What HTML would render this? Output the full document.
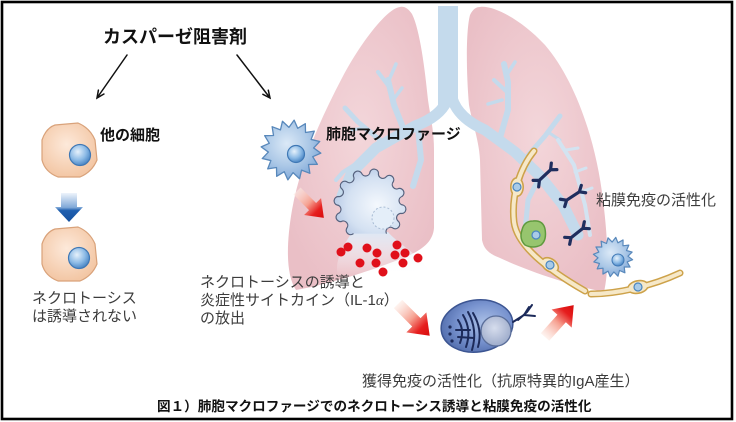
<!DOCTYPE html>
<html><head><meta charset="utf-8"><style>
html,body{margin:0;padding:0;background:#fff;}
svg{display:block;}
text{font-family:"Liberation Sans","Noto Sans CJK JP",sans-serif;}
.b{font-weight:bold;fill:#111;}
.g{fill:#3c3c3c;}
</style></head><body>
<svg width="736" height="422" viewBox="0 0 736 422" xmlns="http://www.w3.org/2000/svg">
<defs>
<radialGradient id="lung" cx="0.5" cy="0.45" r="0.6">
<stop offset="0" stop-color="#f3d6da"/><stop offset="1" stop-color="#eabfc6"/></radialGradient>
<radialGradient id="mac" cx="0.42" cy="0.4" r="0.6">
<stop offset="0" stop-color="#dbe9f7"/><stop offset="0.6" stop-color="#adc9e7"/><stop offset="1" stop-color="#86addb"/></radialGradient>
<radialGradient id="nuc" cx="0.4" cy="0.35" r="0.65">
<stop offset="0" stop-color="#e6f1fb"/><stop offset="0.6" stop-color="#8dbbe6"/><stop offset="1" stop-color="#4d88c6"/></radialGradient>
<radialGradient id="peach" cx="0.45" cy="0.4" r="0.6">
<stop offset="0" stop-color="#fde9da"/><stop offset="1" stop-color="#f3c7a5"/></radialGradient>
<radialGradient id="necro" cx="0.6" cy="0.55" r="0.6">
<stop offset="0" stop-color="#f4f8fd"/><stop offset="0.7" stop-color="#d4e1f2"/><stop offset="1" stop-color="#b9cbe6"/></radialGradient>
<linearGradient id="spill" x1="0" y1="0" x2="0" y2="1">
<stop offset="0" stop-color="#dde8f5"/><stop offset="1" stop-color="#ffffff" stop-opacity="0"/></linearGradient>
<radialGradient id="plasma" cx="0.6" cy="0.45" r="0.6">
<stop offset="0" stop-color="#aabfe6"/><stop offset="0.6" stop-color="#7893cf"/><stop offset="1" stop-color="#5671b0"/></radialGradient>
<radialGradient id="pnuc" cx="0.45" cy="0.4" r="0.6">
<stop offset="0" stop-color="#d6dded"/><stop offset="1" stop-color="#9eaccb"/></radialGradient>
<linearGradient id="red" x1="0" y1="0" x2="1" y2="0">
<stop offset="0" stop-color="#fdebe4" stop-opacity="0.6"/><stop offset="0.45" stop-color="#f6a090"/><stop offset="0.75" stop-color="#e61e1e"/><stop offset="1" stop-color="#d80c0c"/></linearGradient>
<linearGradient id="blue" x1="0" y1="0" x2="0" y2="1">
<stop offset="0" stop-color="#eef4fb"/><stop offset="0.5" stop-color="#7fa8d8"/><stop offset="0.6" stop-color="#2060b0"/><stop offset="1" stop-color="#14509e"/></linearGradient>
<polygon id="spike" points="30,0 22.3,4.4 27.7,11.5 18.9,12.6 21.2,21.2 12.6,18.9 11.5,27.7 4.4,22.3 0,30 -4.4,22.3 -11.5,27.7 -12.6,18.9 -21.2,21.2 -18.9,12.6 -27.7,11.5 -22.3,4.4 -30,0 -22.3,-4.4 -27.7,-11.5 -18.9,-12.6 -21.2,-21.2 -12.6,-18.9 -11.5,-27.7 -4.4,-22.3 0,-30 4.4,-22.3 11.5,-27.7 12.6,-18.9 21.2,-21.2 18.9,-12.6 27.7,-11.5 22.3,-4.4"/>
<path id="ab" d="M -7 3 L 7 -3 M 7 -3 L 10 -9 M 7 -3 L 13 -1 M -7 3 L -10 9 M -7 3 L -13 1" fill="none" stroke="#1f2e5e" stroke-width="3.2" stroke-linecap="round" stroke-linejoin="round"/>
<polygon id="rarrow" points="0,-5 22,-5 22,-12 38,0 22,12 22,5 0,5" fill="url(#red)"/>
</defs>

<rect width="736" height="422" fill="#fff"/>

<!-- lungs -->
<path d="M 400 7 C 388 8, 362 40, 342 78 C 320 120, 300 165, 292 210 C 286 245, 286 275, 296 290 C 330 284, 380 268, 410 255 C 425 248, 433 240, 434 228 L 434 150 C 434 130, 430 115, 428 100 C 425 70, 420 30, 412 14 C 408 8, 404 6, 400 7 Z" fill="url(#lung)"/>
<path d="M 480 7 C 492 5, 520 18, 545 45 C 575 80, 596 140, 603 200 C 608 240, 609 270, 604 292 C 570 285, 530 272, 500 258 C 490 254, 484 250, 482 240 L 480 160 C 479 140, 472 122, 469 105 C 466 70, 466 30, 470 15 C 473 9, 476 7, 480 7 Z" fill="url(#lung)"/>

<!-- bronchi -->
<g fill="none" stroke="#c4daec" stroke-linecap="round" stroke-linejoin="round">
<rect x="438" y="6" width="20" height="100" fill="#c4daec" stroke="none"/>
<path d="M 448 98 Q 442 116 415 126 L 376 148 L 352 172 L 342 196" stroke-width="11"/>
<path d="M 452 98 Q 458 118 485 130 L 515 152 L 540 176 L 563 205 L 578 235" stroke-width="11"/>
<path d="M 404 130 L 394 105 L 388 80" stroke-width="6"/>
<path d="M 390 88 L 378 72" stroke-width="4"/>
<path d="M 389 80 L 396 64" stroke-width="3.5"/>
<path d="M 393 100 L 402 88" stroke-width="3.5"/>
<path d="M 380 140 L 358 122 L 345 108" stroke-width="5"/>
<path d="M 362 128 L 352 130" stroke-width="3"/>
<path d="M 418 128 L 421 160 L 413 186" stroke-width="6"/>
<path d="M 365 158 L 343 172 L 336 180" stroke-width="4"/>
<path d="M 500 138 L 508 110 L 508 82 L 504 64" stroke-width="6"/>
<path d="M 507 92 L 494 80" stroke-width="4"/>
<path d="M 506 76 L 515 62" stroke-width="3.5"/>
<path d="M 502 100 L 488 104" stroke-width="3.5"/>
<path d="M 524 160 L 545 136 L 560 116" stroke-width="5"/>
<path d="M 548 132 L 560 140" stroke-width="3"/>
<path d="M 540 176 L 528 200 L 525 232" stroke-width="5"/>
<path d="M 558 140 L 574 165 L 585 205 L 590 235" stroke="#d3e3f1" stroke-width="4"/>
<path d="M 566 150 L 578 148 M 575 172 L 586 168 M 581 192 L 592 188" stroke="#d3e3f1" stroke-width="3"/>
</g>

<!-- epithelium -->
<g fill="none" stroke-linecap="round" stroke-linejoin="round">
<path d="M 534 151 C 520 168, 511 195, 514 222 C 517 245, 545 268, 585 291" stroke="#cda24a" stroke-width="7"/>
<path d="M 591 294 C 615 294, 650 287, 680 273" stroke="#cda24a" stroke-width="7"/>
<ellipse cx="517" cy="187" rx="7" ry="10" fill="#cda24a" stroke="none"/>
<ellipse cx="550" cy="265" rx="10" ry="7" transform="rotate(35 550 265)" fill="#cda24a" stroke="none"/>
<ellipse cx="638" cy="287" rx="11" ry="7" transform="rotate(-12 638 287)" fill="#cda24a" stroke="none"/>
<path d="M 534 151 C 520 168, 511 195, 514 222 C 517 245, 545 268, 585 291" stroke="#f6e8c8" stroke-width="4"/>
<path d="M 591 294 C 615 294, 650 287, 680 273" stroke="#f6e8c8" stroke-width="4"/>
<ellipse cx="517" cy="187" rx="5.4" ry="8.4" fill="#f6e8c8" stroke="none"/>
<ellipse cx="550" cy="265" rx="8.4" ry="5.4" transform="rotate(35 550 265)" fill="#f6e8c8" stroke="none"/>
<ellipse cx="638" cy="287" rx="9.4" ry="5.4" transform="rotate(-12 638 287)" fill="#f6e8c8" stroke="none"/>
</g>
<path d="M 522 230 Q 524 221 533 221 Q 543 220 545 229 Q 547 240 541 245 Q 533 249 525 245 Q 519 239 522 230 Z" fill="#97c56e" stroke="#5f9a3e" stroke-width="1.5"/>
<g fill="#a9cbe8" stroke="#4a86c0" stroke-width="1.2">
<circle cx="517" cy="187" r="4"/><circle cx="536" cy="235" r="4"/><circle cx="550" cy="265" r="4"/><circle cx="638" cy="287" r="4"/>
</g>

<!-- antibodies -->
<use href="#ab" transform="translate(545,175) rotate(-20)"/>
<use href="#ab" transform="translate(573,196) rotate(-10)"/>
<use href="#ab" transform="translate(577,233) rotate(-15)"/>

<!-- small macrophage -->
<g transform="translate(613,257) scale(0.66) rotate(8)">
<use href="#spike" fill="url(#mac)" stroke="#5888bb" stroke-width="1.8" stroke-linejoin="round"/>
</g>
<circle cx="618" cy="260" r="6" fill="url(#nuc)" stroke="#3f78b5" stroke-width="1"/>

<!-- big macrophage -->
<g transform="translate(291,150) rotate(6)">
<use href="#spike" fill="url(#mac)" stroke="#5888bb" stroke-width="1.3" stroke-linejoin="round"/>
</g>
<circle cx="296" cy="154" r="8.5" fill="url(#nuc)" stroke="#3f78b5" stroke-width="1.2"/>

<!-- red arrow 1 -->
<use href="#rarrow" transform="translate(297,191) rotate(45)"/>

<!-- necrotic cell -->
<path d="M 352 232 C 342 248, 334 262, 338 276 L 428 270 C 420 255, 398 244, 388 232 Z" fill="url(#spill)"/>
<path d="M 353.5 233.6 A 4.4 4.4 0 0 1 346.7 228.3 A 4.4 4.4 0 0 0 341.4 221.5 A 4.4 4.4 0 0 1 338.1 213.5 A 4.4 4.4 0 0 0 337 205 A 4.4 4.4 0 0 1 338.1 196.5 A 4.4 4.4 0 0 0 341.4 188.5 A 4.4 4.4 0 0 1 346.7 181.7 A 4.4 4.4 0 0 0 353.5 176.4 A 4.4 4.4 0 0 1 361.5 173.1 A 4.4 4.4 0 0 0 370 172 A 4.4 4.4 0 0 1 378.5 173.1 A 4.4 4.4 0 0 0 386.5 176.4 A 4.4 4.4 0 0 1 393.3 181.7 A 4.4 4.4 0 0 0 398.6 188.5 A 4.4 4.4 0 0 1 401.9 196.5 A 4.4 4.4 0 0 0 403 205 A 4.4 4.4 0 0 1 401.9 213.5 A 4.4 4.4 0 0 0 398.6 221.5 A 4.4 4.4 0 0 1 393.3 228.3 A 4.4 4.4 0 0 0 386.5 233.6" fill="url(#necro)" stroke="#56627e" stroke-width="1.2"/>
<circle cx="383" cy="218" r="11" fill="#e4eef9" stroke="#a9bcd4" stroke-width="1" stroke-dasharray="2 2"/>

<!-- dots -->
<g fill="#e0101a">
<circle cx="348" cy="247" r="4.5"/><circle cx="341" cy="252" r="4.5"/><circle cx="367" cy="248" r="4.5"/>
<circle cx="377" cy="253" r="4.5"/><circle cx="360" cy="263" r="4.5"/><circle cx="376" cy="263" r="4.5"/>
<circle cx="383" cy="272" r="4.5"/><circle cx="397" cy="245" r="4.5"/><circle cx="395" cy="255" r="4.5"/>
<circle cx="405" cy="253" r="4.5"/><circle cx="403" cy="263" r="4.5"/><circle cx="418" cy="258" r="4.5"/>
</g>

<!-- plasma cell -->
<ellipse cx="477" cy="326" rx="36" ry="26" transform="rotate(-8 477 326)" fill="url(#plasma)" stroke="#3c5592" stroke-width="1.5"/>
<circle cx="496" cy="331" r="15" fill="url(#pnuc)" stroke="#5a6e9a" stroke-width="1.3"/>
<g fill="none" stroke="#1c2a5a" stroke-width="2" stroke-linecap="round">
<path d="M 458 320 Q 465 330 460 343"/>
<path d="M 463 315 Q 472 330 466 347"/>
<path d="M 468 312 Q 478 330 472 350"/>
<path d="M 473 313 Q 483 330 478 347"/>
<path d="M 456 330 L 470 330 M 458 337 L 474 338"/>
<path d="M 513 322 L 524 315 L 529 307 M 524 315 L 535 316 M 518 320 L 527 312 M 527 312 L 532 305"/>
</g>
<g fill="#1c2a5a"><circle cx="450" cy="327" r="1.6"/><circle cx="450" cy="334" r="1.6"/><circle cx="452" cy="341" r="1.6"/></g>

<!-- red arrows 2,3 -->
<use href="#rarrow" transform="translate(398,304) rotate(45) scale(1.18)"/>
<use href="#rarrow" transform="translate(545,337) rotate(-48) scale(1.13)"/>

<!-- peach cells -->
<path d="M 55 125 L 78 123 Q 90 128 95 140 L 97 160 Q 92 172 80 177 L 58 177 Q 45 172 42 160 L 42 140 Q 46 128 55 125 Z" fill="url(#peach)" stroke="#d9a27a" stroke-width="1.2"/>
<circle cx="80" cy="155" r="10.5" fill="url(#nuc)" stroke="#3f78b5" stroke-width="1.2"/>
<path d="M 55 229 L 78 227 Q 90 232 95 244 L 97 264 Q 92 276 80 281 L 58 281 Q 45 276 42 264 L 42 244 Q 46 232 55 229 Z" fill="url(#peach)" stroke="#d9a27a" stroke-width="1.2"/>
<circle cx="79" cy="258" r="10.5" fill="url(#nuc)" stroke="#3f78b5" stroke-width="1.2"/>

<!-- blue arrow -->
<polygon points="61,193 77,193 77,207 83,207 69,222 55,207 61,207" fill="url(#blue)"/>

<!-- black arrows -->
<g fill="none" stroke="#111" stroke-width="1.5" stroke-linecap="round">
<path d="M 127 55 L 97 98 M 103.9 94 L 97 98 L 98.4 90.1"/>
<path d="M 237 55 L 270 98 M 268.3 90.2 L 270 98 L 262.9 94.3"/>
</g>

<!-- texts -->
<text class="b" x="103" y="43" font-size="18">カスパーゼ阻害剤</text>
<text class="b" x="100" y="140" font-size="15">他の細胞</text>
<text class="b" x="326" y="139" font-size="15">肺胞マクロファージ</text>
<text class="g" x="32" y="303" font-size="15">ネクロトーシス</text>
<text class="g" x="32" y="321" font-size="15">は誘導されない</text>
<text class="g" x="200" y="287" font-size="15">ネクロトーシスの誘導と</text>
<text class="g" x="200" y="305" font-size="15">炎症性サイトカイン（IL-1<tspan font-family="Liberation Serif, serif" font-style="italic">α</tspan>）</text>
<text class="g" x="200" y="323" font-size="15">の放出</text>
<text class="g" x="596" y="205" font-size="15">粘膜免疫の活性化</text>
<text class="g" x="362" y="386" font-size="15">獲得免疫の活性化（抗原特異的IgA産生）</text>
<text class="b" x="157" y="411" font-size="13.6">図１）肺胞マクロファージでのネクロトーシス誘導と粘膜免疫の活性化</text>

<!-- frame -->
<rect x="2" y="2" width="730" height="417" fill="none" stroke="#000" stroke-width="2.6"/>
</svg>
</body></html>
